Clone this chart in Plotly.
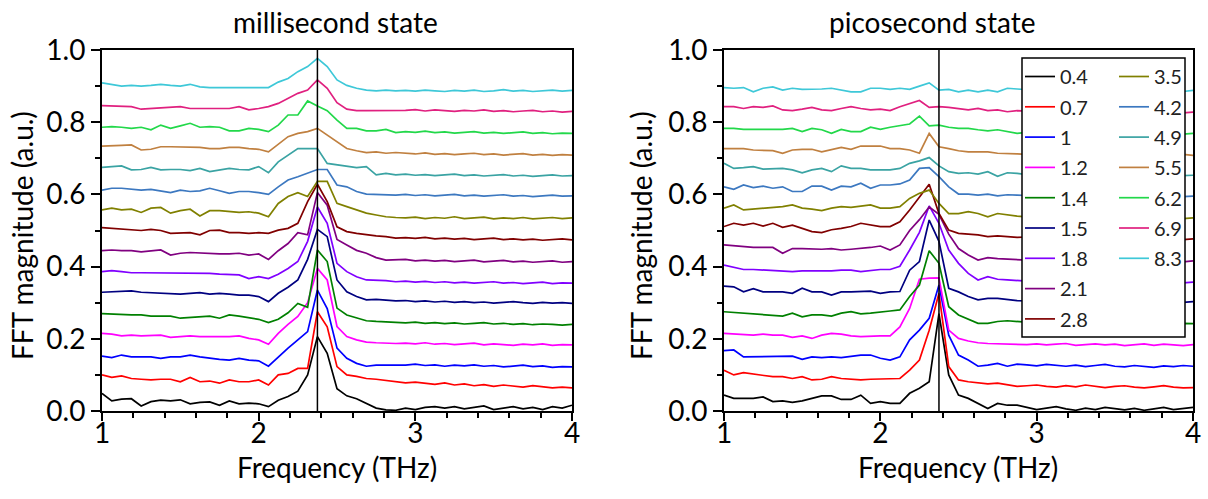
import plotly.graph_objects as go

W, H = 1208, 499

freq = [1.0, 1.0625, 1.125, 1.1875, 1.25, 1.3125, 1.375, 1.4375, 1.5, 1.5625, 1.625, 1.6875,
        1.75, 1.8125, 1.875, 1.9375, 2.0, 2.0625, 2.125, 2.1875, 2.25, 2.3125, 2.375, 2.4375,
        2.5, 2.5625, 2.625, 2.6875, 2.75, 2.8125, 2.875, 2.9375, 3.0, 3.0625, 3.125, 3.1875,
        3.25, 3.3125, 3.375, 3.4375, 3.5, 3.5625, 3.625, 3.6875, 3.75, 3.8125, 3.875, 3.9375, 4.0]

fluences = ["0.4", "0.7", "1", "1.2", "1.4", "1.5", "1.8", "2.1", "2.8",
            "3.5", "4.2", "4.9", "5.5", "6.2", "6.9", "8.3"]

colors = ["#000000", "#FF0000", "#0000FF", "#FF00FF", "#008000", "#000080", "#8000FF", "#800080",
          "#800000", "#808000", "#3C78C0", "#3AA3A3", "#C08040", "#22D84A", "#E0207F", "#3EC8D8"]

# ---------------- millisecond state ----------------
ms_0_4 = [0.049,0.028,0.033,0.034,0.014,0.026,0.030,0.028,0.031,0.020,0.024,0.025,0.016,0.028,0.020,0.022,0.020,
          0.012,0.030,0.040,0.055,0.100,0.206,0.160,0.062,0.042,0.034,0.020,0.008,0.003,0.002,
          0.008,0.004,0.010,0.012,0.008,0.012,0.006,0.010,0.014,0.004,0.008,0.012,0.006,0.010,0.004,0.012,0.008,0.016]
ms_0_7 = [0.100,0.093,0.097,0.090,0.088,0.086,0.088,0.088,0.081,0.093,0.081,0.083,0.077,0.086,0.081,0.081,0.086,
          0.072,0.100,0.104,0.118,0.118,0.275,0.233,0.123,0.100,0.096,0.090,0.088,0.084,0.080,
          0.078,0.080,0.076,0.074,0.078,0.072,0.075,0.070,0.073,0.068,0.072,0.070,0.066,0.070,0.068,0.064,0.066,0.064]
ms_1_0 = [0.152,0.148,0.155,0.150,0.150,0.150,0.146,0.150,0.150,0.155,0.150,0.146,0.143,0.141,0.146,0.141,0.139,
          0.124,0.150,0.174,0.197,0.220,0.335,0.284,0.174,0.146,0.132,0.124,0.127,0.128,0.127,
          0.127,0.130,0.126,0.128,0.124,0.127,0.125,0.128,0.124,0.126,0.122,0.125,0.127,0.123,0.125,0.121,0.123,0.122]
ms_1_2 = [0.215,0.213,0.208,0.210,0.208,0.208,0.210,0.204,0.206,0.208,0.206,0.206,0.204,0.206,0.208,0.201,0.197,
          0.185,0.215,0.240,0.262,0.300,0.395,0.363,0.234,0.206,0.197,0.191,0.189,0.187,0.187,
          0.188,0.186,0.189,0.185,0.187,0.184,0.186,0.188,0.183,0.186,0.184,0.182,0.185,0.183,0.186,0.182,0.184,0.183]
ms_1_4 = [0.270,0.268,0.266,0.266,0.266,0.263,0.263,0.263,0.257,0.259,0.259,0.263,0.257,0.266,0.263,0.259,0.254,
          0.245,0.254,0.272,0.298,0.287,0.446,0.414,0.285,0.266,0.257,0.250,0.248,0.247,0.246,
          0.244,0.246,0.243,0.245,0.242,0.244,0.241,0.243,0.245,0.241,0.243,0.240,0.242,0.239,0.241,0.240,0.238,0.240]
ms_1_5 = [0.329,0.330,0.330,0.333,0.329,0.328,0.326,0.324,0.324,0.326,0.328,0.324,0.326,0.324,0.321,0.321,0.317,
          0.303,0.326,0.343,0.363,0.420,0.503,0.483,0.363,0.330,0.317,0.308,0.309,0.307,0.305,
          0.306,0.303,0.305,0.302,0.304,0.301,0.303,0.300,0.302,0.299,0.301,0.303,0.300,0.298,0.301,0.299,0.300,0.298]
ms_1_8 = [0.386,0.389,0.386,0.383,0.383,0.383,0.381,0.381,0.381,0.381,0.381,0.381,0.379,0.377,0.377,0.367,0.372,
          0.367,0.379,0.395,0.414,0.470,0.565,0.520,0.409,0.386,0.372,0.363,0.363,0.361,0.358,
          0.360,0.357,0.359,0.356,0.358,0.355,0.357,0.354,0.356,0.358,0.354,0.356,0.353,0.355,0.357,0.353,0.355,0.354]
ms_2_1 = [0.444,0.446,0.444,0.444,0.441,0.444,0.446,0.432,0.437,0.439,0.437,0.437,0.435,0.435,0.437,0.432,0.435,
          0.420,0.444,0.464,0.494,0.488,0.605,0.570,0.475,0.460,0.445,0.437,0.425,0.418,0.418,
          0.420,0.416,0.418,0.415,0.417,0.414,0.416,0.418,0.413,0.415,0.417,0.413,0.415,0.412,0.414,0.416,0.412,0.414]
ms_2_8 = [0.508,0.506,0.503,0.501,0.500,0.503,0.500,0.492,0.494,0.494,0.488,0.500,0.501,0.494,0.494,0.492,0.494,
          0.492,0.501,0.506,0.520,0.580,0.628,0.580,0.510,0.497,0.492,0.488,0.485,0.483,0.479,
          0.480,0.478,0.481,0.477,0.479,0.476,0.478,0.475,0.477,0.479,0.475,0.477,0.474,0.476,0.473,0.475,0.477,0.474]
ms_3_5 = [0.557,0.562,0.557,0.559,0.550,0.562,0.564,0.548,0.555,0.559,0.540,0.555,0.555,0.552,0.550,0.552,0.548,
          0.538,0.575,0.594,0.605,0.594,0.636,0.636,0.575,0.566,0.557,0.548,0.543,0.538,0.536,
          0.535,0.537,0.533,0.536,0.534,0.538,0.533,0.535,0.537,0.532,0.535,0.533,0.536,0.532,0.534,0.536,0.533,0.535]
ms_4_2 = [0.612,0.617,0.617,0.614,0.612,0.614,0.610,0.605,0.612,0.608,0.610,0.617,0.610,0.603,0.608,0.608,0.605,
          0.600,0.621,0.640,0.649,0.658,0.669,0.669,0.626,0.621,0.608,0.601,0.600,0.598,0.598,
          0.600,0.597,0.599,0.596,0.598,0.600,0.596,0.598,0.595,0.597,0.599,0.595,0.597,0.594,0.596,0.598,0.595,0.596]
ms_4_9 = [0.675,0.677,0.679,0.668,0.669,0.675,0.668,0.669,0.669,0.666,0.672,0.663,0.668,0.672,0.669,0.668,0.677,
          0.660,0.690,0.709,0.727,0.727,0.727,0.686,0.682,0.677,0.674,0.677,0.654,0.658,0.654,
          0.656,0.653,0.655,0.652,0.654,0.656,0.652,0.654,0.651,0.653,0.655,0.651,0.653,0.650,0.652,0.654,0.651,0.652]
ms_5_5 = [0.734,0.734,0.736,0.737,0.723,0.725,0.732,0.732,0.732,0.730,0.730,0.727,0.727,0.730,0.730,0.727,0.725,
          0.718,0.740,0.760,0.769,0.774,0.783,0.764,0.746,0.727,0.721,0.716,0.718,0.714,0.716,
          0.714,0.712,0.715,0.711,0.713,0.710,0.712,0.714,0.710,0.712,0.709,0.711,0.713,0.709,0.711,0.708,0.710,0.709]
ms_6_2 = [0.786,0.788,0.786,0.783,0.786,0.779,0.792,0.783,0.790,0.797,0.786,0.788,0.786,0.776,0.776,0.783,0.780,
          0.774,0.792,0.820,0.820,0.859,0.845,0.832,0.806,0.783,0.783,0.776,0.776,0.780,0.771,
          0.774,0.772,0.775,0.771,0.773,0.770,0.772,0.774,0.770,0.772,0.769,0.771,0.773,0.769,0.771,0.768,0.770,0.769]
ms_6_9 = [0.846,0.845,0.843,0.843,0.836,0.838,0.838,0.841,0.843,0.838,0.838,0.836,0.836,0.838,0.843,0.834,0.838,
          0.843,0.852,0.866,0.880,0.889,0.917,0.894,0.854,0.836,0.832,0.832,0.832,0.834,0.834,
          0.833,0.835,0.831,0.834,0.832,0.830,0.833,0.831,0.834,0.830,0.832,0.829,0.831,0.833,0.829,0.831,0.828,0.830]
ms_8_3 = [0.909,0.905,0.900,0.902,0.900,0.902,0.905,0.902,0.900,0.905,0.898,0.896,0.896,0.898,0.898,0.898,0.898,
          0.896,0.911,0.921,0.940,0.954,0.977,0.954,0.917,0.902,0.894,0.889,0.887,0.889,0.887,
          0.888,0.886,0.889,0.887,0.885,0.888,0.886,0.889,0.885,0.887,0.890,0.886,0.888,0.885,0.887,0.889,0.886,0.888]

# ---------------- picosecond state ----------------
ps_0_4 = [0.044,0.035,0.035,0.035,0.039,0.026,0.028,0.024,0.028,0.035,0.042,0.042,0.032,0.032,0.044,0.021,0.026,
          0.021,0.021,0.049,0.063,0.081,0.270,0.100,0.044,0.035,0.021,0.007,0.021,0.016,0.016,
          0.010,0.004,0.008,0.012,0.006,0.002,0.008,0.004,0.010,0.006,0.003,0.007,0.002,0.006,0.010,0.004,0.008,0.010]
ps_0_7 = [0.113,0.100,0.106,0.102,0.097,0.095,0.095,0.090,0.095,0.086,0.088,0.095,0.090,0.088,0.086,0.088,0.088,
          0.090,0.090,0.113,0.141,0.224,0.326,0.123,0.086,0.081,0.077,0.075,0.077,0.072,0.068,
          0.070,0.072,0.068,0.066,0.070,0.067,0.072,0.068,0.065,0.068,0.070,0.066,0.064,0.067,0.070,0.066,0.064,0.065]
ps_1_0 = [0.167,0.169,0.150,0.150,0.150,0.150,0.152,0.152,0.143,0.150,0.148,0.150,0.148,0.152,0.155,0.155,0.146,
          0.141,0.150,0.197,0.224,0.257,0.349,0.210,0.155,0.141,0.124,0.127,0.132,0.124,0.130,
          0.128,0.125,0.129,0.126,0.124,0.127,0.123,0.126,0.129,0.124,0.122,0.126,0.124,0.121,0.125,0.123,0.126,0.124]
ps_1_2 = [0.215,0.213,0.210,0.210,0.213,0.210,0.210,0.204,0.208,0.201,0.210,0.215,0.213,0.208,0.206,0.208,0.208,
          0.208,0.233,0.284,0.365,0.368,0.369,0.224,0.201,0.194,0.189,0.187,0.186,0.187,0.185,
          0.184,0.186,0.183,0.185,0.187,0.182,0.184,0.186,0.183,0.185,0.181,0.184,0.186,0.182,0.185,0.183,0.181,0.184]
ps_1_4 = [0.275,0.273,0.271,0.271,0.269,0.266,0.263,0.271,0.261,0.266,0.266,0.263,0.271,0.275,0.269,0.271,0.275,
          0.277,0.280,0.317,0.349,0.444,0.409,0.289,0.266,0.254,0.243,0.243,0.248,0.250,0.248,
          0.246,0.244,0.247,0.243,0.245,0.242,0.246,0.244,0.241,0.245,0.243,0.240,0.244,0.242,0.245,0.241,0.243,0.242]
ps_1_5 = [0.346,0.344,0.330,0.339,0.330,0.330,0.330,0.326,0.340,0.330,0.330,0.321,0.330,0.330,0.332,0.332,0.326,
          0.330,0.331,0.390,0.414,0.529,0.470,0.340,0.330,0.317,0.308,0.312,0.312,0.308,0.306,
          0.305,0.308,0.304,0.306,0.303,0.307,0.304,0.302,0.306,0.303,0.305,0.301,0.304,0.306,0.302,0.304,0.301,0.303]
ps_1_8 = [0.404,0.398,0.392,0.392,0.390,0.390,0.388,0.386,0.388,0.388,0.386,0.388,0.390,0.390,0.386,0.390,0.392,
          0.392,0.401,0.446,0.495,0.568,0.520,0.446,0.409,0.381,0.363,0.372,0.365,0.363,0.362,
          0.360,0.362,0.358,0.361,0.359,0.357,0.360,0.358,0.361,0.357,0.359,0.356,0.358,0.360,0.356,0.358,0.355,0.357]
ps_2_1 = [0.460,0.457,0.455,0.453,0.453,0.453,0.437,0.450,0.450,0.448,0.448,0.450,0.446,0.448,0.450,0.453,0.457,
          0.446,0.460,0.500,0.530,0.565,0.545,0.490,0.450,0.432,0.418,0.425,0.422,0.420,0.419,
          0.418,0.421,0.416,0.419,0.417,0.414,0.418,0.416,0.419,0.415,0.417,0.414,0.416,0.419,0.415,0.417,0.413,0.416]
ps_2_8 = [0.511,0.520,0.515,0.520,0.512,0.520,0.509,0.515,0.506,0.497,0.494,0.502,0.506,0.511,0.520,0.515,0.511,
          0.511,0.524,0.557,0.594,0.628,0.547,0.501,0.492,0.490,0.488,0.483,0.485,0.483,0.481,
          0.482,0.479,0.483,0.480,0.478,0.481,0.477,0.480,0.478,0.476,0.479,0.477,0.475,0.478,0.476,0.479,0.475,0.477]
ps_3_5 = [0.562,0.571,0.557,0.559,0.562,0.564,0.566,0.571,0.562,0.559,0.555,0.562,0.566,0.564,0.568,0.571,0.562,
          0.562,0.566,0.589,0.603,0.612,0.575,0.547,0.547,0.552,0.547,0.538,0.547,0.543,0.540,
          0.538,0.536,0.540,0.537,0.535,0.539,0.536,0.534,0.538,0.535,0.537,0.533,0.536,0.538,0.534,0.536,0.533,0.535]
ps_4_2 = [0.621,0.614,0.626,0.619,0.623,0.617,0.621,0.608,0.608,0.623,0.623,0.612,0.623,0.621,0.631,0.617,0.626,
          0.626,0.629,0.640,0.672,0.674,0.649,0.621,0.601,0.601,0.598,0.601,0.596,0.599,0.598,
          0.597,0.599,0.595,0.598,0.596,0.594,0.597,0.595,0.598,0.594,0.596,0.593,0.595,0.597,0.593,0.596,0.594,0.595]
ps_4_9 = [0.686,0.672,0.674,0.677,0.670,0.672,0.672,0.668,0.660,0.668,0.672,0.663,0.679,0.672,0.672,0.668,0.669,
          0.668,0.672,0.686,0.693,0.702,0.679,0.663,0.658,0.660,0.656,0.663,0.650,0.660,0.658,
          0.655,0.657,0.653,0.656,0.654,0.652,0.655,0.653,0.656,0.652,0.654,0.651,0.653,0.655,0.651,0.654,0.652,0.653]
ps_5_5 = [0.727,0.727,0.727,0.723,0.723,0.721,0.714,0.723,0.725,0.725,0.718,0.723,0.730,0.725,0.734,0.734,0.734,
          0.727,0.727,0.723,0.714,0.769,0.732,0.727,0.721,0.718,0.718,0.718,0.714,0.712,0.712,
          0.711,0.713,0.710,0.712,0.709,0.711,0.713,0.709,0.711,0.708,0.710,0.712,0.708,0.710,0.707,0.709,0.711,0.708]
ps_6_2 = [0.783,0.783,0.780,0.780,0.779,0.779,0.780,0.783,0.774,0.783,0.779,0.769,0.780,0.774,0.774,0.786,0.780,
          0.786,0.790,0.795,0.817,0.790,0.792,0.786,0.783,0.783,0.779,0.776,0.779,0.774,0.769,
          0.772,0.774,0.770,0.773,0.771,0.769,0.772,0.770,0.773,0.769,0.771,0.768,0.770,0.772,0.768,0.770,0.767,0.769]
ps_6_9 = [0.843,0.843,0.838,0.843,0.841,0.845,0.834,0.832,0.836,0.841,0.834,0.832,0.838,0.843,0.838,0.834,0.836,
          0.832,0.843,0.852,0.860,0.841,0.843,0.841,0.838,0.834,0.838,0.832,0.834,0.829,0.832,
          0.831,0.833,0.829,0.832,0.830,0.828,0.831,0.829,0.832,0.828,0.830,0.827,0.829,0.831,0.827,0.829,0.826,0.828]
ps_8_3 = [0.896,0.894,0.896,0.884,0.894,0.898,0.889,0.894,0.891,0.891,0.892,0.894,0.889,0.884,0.884,0.894,0.894,
          0.891,0.894,0.891,0.900,0.909,0.889,0.891,0.884,0.889,0.884,0.889,0.884,0.894,0.892,
          0.890,0.888,0.891,0.887,0.889,0.886,0.890,0.888,0.886,0.889,0.887,0.885,0.888,0.886,0.889,0.887,0.885,0.888]

peak_freq = 2.375

ms_all = [ms_0_4, ms_0_7, ms_1_0, ms_1_2, ms_1_4, ms_1_5, ms_1_8, ms_2_1, ms_2_8,
          ms_3_5, ms_4_2, ms_4_9, ms_5_5, ms_6_2, ms_6_9, ms_8_3]
ps_all = [ps_0_4, ps_0_7, ps_1_0, ps_1_2, ps_1_4, ps_1_5, ps_1_8, ps_2_1, ps_2_8,
          ps_3_5, ps_4_2, ps_4_9, ps_5_5, ps_6_2, ps_6_9, ps_8_3]

FONT = "Lato"
TXT = 28

def px(x):
    return x / W

def py(y):
    return 1 - y / H

fig = go.Figure()

for i, (lab, col) in enumerate(zip(fluences, colors)):
    fig.add_trace(go.Scatter(x=freq, y=ms_all[i], mode="lines", name=lab,
                             line=dict(color=col, width=1.7), xaxis="x", yaxis="y",
                             showlegend=False))
for i, (lab, col) in enumerate(zip(fluences, colors)):
    fig.add_trace(go.Scatter(x=freq, y=ps_all[i], mode="lines", name=lab,
                             line=dict(color=col, width=1.7), xaxis="x2", yaxis="y2",
                             showlegend=True, legendgroup="g" + lab,
                             legend="legend" if i < 9 else "legend2"))

ydom = [py(411), py(50)]
axis_common = dict(
    showline=True, linecolor="black", linewidth=2, mirror=True,
    ticks="outside", tickcolor="black", tickwidth=2, ticklen=9,
    showgrid=False, zeroline=False, automargin=False,
    tickfont=dict(family=FONT, size=TXT, color="black"),
)
xaxis_common = dict(axis_common, range=[1, 4], tickvals=[1, 2, 3, 4],
                    ticktext=["1", "2", "3", "4"], ticklen=8, ticklabelstandoff=-12,
                    minor=dict(dtick=0.2, tick0=1, ticks="outside", ticklen=5,
                               tickwidth=1.5, tickcolor="black"))
yaxis_common = dict(axis_common, range=[0, 1.0], tickvals=[0, 0.2, 0.4, 0.6, 0.8, 1.0],
                    ticktext=["0.0", "0.2", "0.4", "0.6", "0.8", "1.0"],
                    minor=dict(dtick=0.1, tick0=0, ticks="outside", ticklen=5,
                               tickwidth=1.5, tickcolor="black"))

leg_font = dict(family=FONT, size=20, color="#222222")

def ann(text, x, y, angle=0):
    return dict(text=text, x=px(x), y=py(y), xref="paper", yref="paper",
                xanchor="center", yanchor="middle", showarrow=False, textangle=angle,
                font=dict(family=FONT, size=TXT, color="black"))

fig.update_layout(
    width=W, height=H,
    margin=dict(l=0, r=0, t=0, b=0, autoexpand=False),
    paper_bgcolor="white", plot_bgcolor="white",
    xaxis=dict(xaxis_common, domain=[px(102), px(572)], anchor="y"),
    yaxis=dict(yaxis_common, domain=ydom, anchor="x"),
    xaxis2=dict(xaxis_common, domain=[px(724), px(1193)], anchor="y2"),
    yaxis2=dict(yaxis_common, domain=ydom, anchor="x2"),
    legend=dict(x=px(1020), y=py(57), xanchor="left", yanchor="top",
                bgcolor="rgba(0,0,0,0)", font=leg_font, tracegroupgap=1.3,
                itemwidth=30),
    legend2=dict(x=px(1114), y=py(57), xanchor="left", yanchor="top",
                 bgcolor="rgba(0,0,0,0)", font=leg_font, tracegroupgap=1.3,
                 itemwidth=30),
    shapes=[
        dict(type="line", xref="x", yref="y domain", x0=peak_freq, x1=peak_freq,
             y0=0, y1=1, line=dict(color="black", width=1.5)),
        dict(type="line", xref="x2", yref="y2 domain", x0=peak_freq, x1=peak_freq,
             y0=0, y1=1, line=dict(color="black", width=1.5)),
        dict(type="rect", xref="paper", yref="paper", x0=px(1022), x1=px(1185),
             y0=py(337), y1=py(58), line=dict(color="black", width=1.5),
             fillcolor="white", layer="above"),
    ],
    annotations=[
        ann("millisecond state", 335, 22),
        ann("picosecond state", 932, 22),
        ann("Frequency (THz)", 337, 467),
        ann("Frequency (THz)", 958, 467),
        ann("FFT magnitude (a.u.)", 22, 236, -90),
        ann("FFT magnitude (a.u.)", 641, 236, -90),
    ],
)

fig.write_html("out.html")
